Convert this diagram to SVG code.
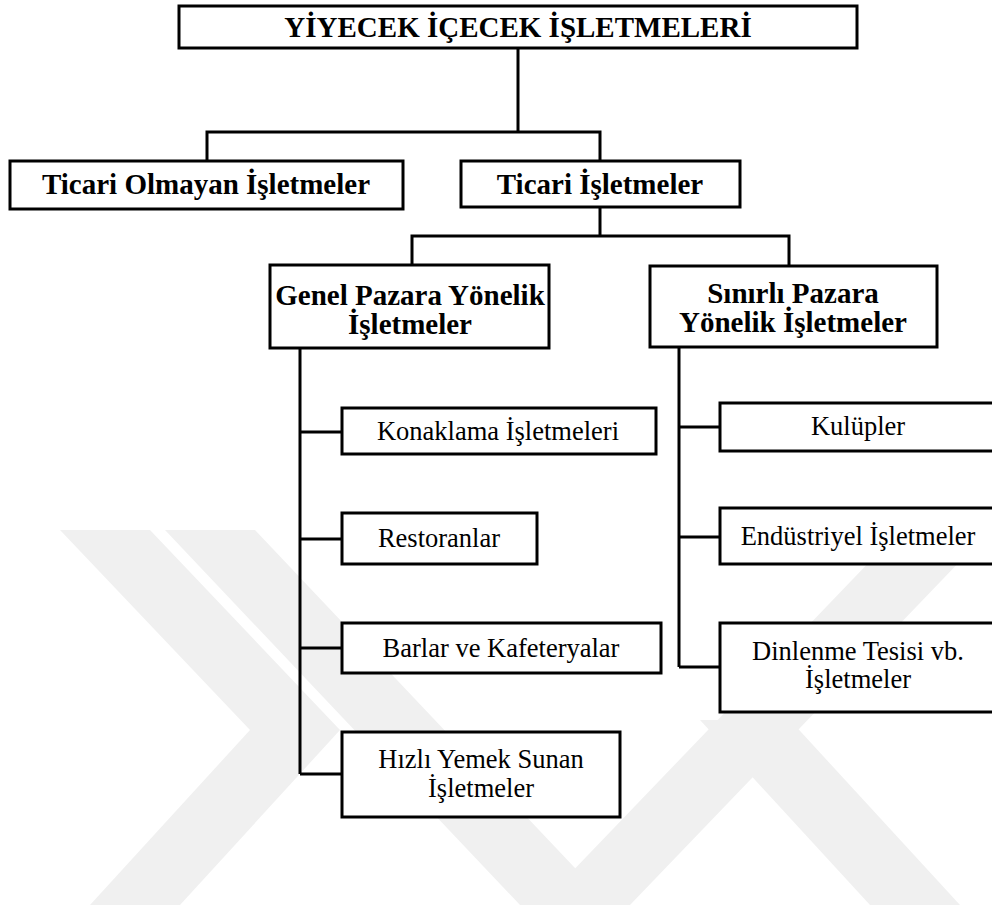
<svg xmlns="http://www.w3.org/2000/svg" width="992" height="905" viewBox="0 0 992 905">
<style>
.box{fill:#fff;stroke:#000;stroke-width:3}
.wm{fill:#f0f0f0;stroke:none}
.b{font-family:"Liberation Serif","Times New Roman",serif;font-weight:bold;font-size:29px;fill:#000;text-anchor:middle}
.r{font-family:"Liberation Serif","Times New Roman",serif;font-size:26.5px;fill:#000;text-anchor:middle}
.c{fill:none;stroke:#000;stroke-width:3}
</style>
<rect width="992" height="905" fill="#fff"/>
<g id="watermark">
<polygon class="wm" points="60,530 150,530 340,730 250,730"/>
<polygon class="wm" points="250,730 340,730 180,905 90,905"/>
<polygon class="wm" points="165,530 255,530 610,905 520,905"/>
<polygon class="wm" points="900,530 990,530 630,905 540,905"/>
<polygon class="wm" points="700,720 790,720 960,905 870,905"/>
</g>
<g id="connectors">
<polyline class="c" points="518,48 518,132"/>
<polyline class="c" points="207,161 207,132 600,132 600,161"/>
<polyline class="c" points="600,207 600,236"/>
<polyline class="c" points="412,266 412,236 789,236 789,266"/>
<polyline class="c" points="300,348 300,774"/>
<line class="c" x1="300" y1="432" x2="342" y2="432"/>
<line class="c" x1="300" y1="539" x2="342" y2="539"/>
<line class="c" x1="300" y1="648" x2="342" y2="648"/>
<line class="c" x1="300" y1="774" x2="342" y2="774"/>
<polyline class="c" points="679,347 679,667"/>
<line class="c" x1="679" y1="427" x2="720" y2="427"/>
<line class="c" x1="679" y1="537" x2="720" y2="537"/>
<line class="c" x1="679" y1="667" x2="720" y2="667"/>
</g>
<g id="n-root"><rect class="box" x="179" y="6" width="678" height="42"/><text class="b" x="518" y="37">YİYECEK İÇECEK İŞLETMELERİ</text></g>
<g id="n-ticari-olmayan"><rect class="box" x="10" y="161" width="393" height="48"/><text class="b" x="206" y="194">Ticari Olmayan İşletmeler</text></g>
<g id="n-ticari"><rect class="box" x="461" y="161" width="279" height="46"/><text class="b" x="600" y="194">Ticari İşletmeler</text></g>
<g id="n-genel"><rect class="box" x="270" y="265" width="279" height="83"/><text class="b" x="410" y="305">Genel Pazara Yönelik</text><text class="b" x="410" y="334">İşletmeler</text></g>
<g id="n-sinirli"><rect class="box" x="650" y="266" width="287" height="81"/><text class="b" x="793" y="303">Sınırlı Pazara</text><text class="b" x="793" y="332">Yönelik İşletmeler</text></g>
<g id="n-konaklama"><rect class="box" x="342" y="408" width="314" height="46"/><text class="r" x="498" y="440">Konaklama İşletmeleri</text></g>
<g id="n-restoranlar"><rect class="box" x="342" y="513" width="195" height="51"/><text class="r" x="439" y="547">Restoranlar</text></g>
<g id="n-barlar"><rect class="box" x="342" y="623" width="319" height="50"/><text class="r" x="501" y="657">Barlar ve Kafeteryalar</text></g>
<g id="n-hizli"><rect class="box" x="342" y="732" width="278" height="85"/><text class="r" x="481" y="768">Hızlı Yemek Sunan</text><text class="r" x="481" y="797">İşletmeler</text></g>
<g id="n-kulupler"><rect class="box" x="720" y="403" width="277" height="48"/><text class="r" x="858" y="435">Kulüpler</text></g>
<g id="n-endustriyel"><rect class="box" x="720" y="508" width="277" height="56"/><text class="r" x="858" y="545">Endüstriyel İşletmeler</text></g>
<g id="n-dinlenme"><rect class="box" x="720" y="623" width="277" height="89"/><text class="r" x="858" y="660">Dinlenme Tesisi vb.</text><text class="r" x="858" y="688">İşletmeler</text></g>
</svg>
